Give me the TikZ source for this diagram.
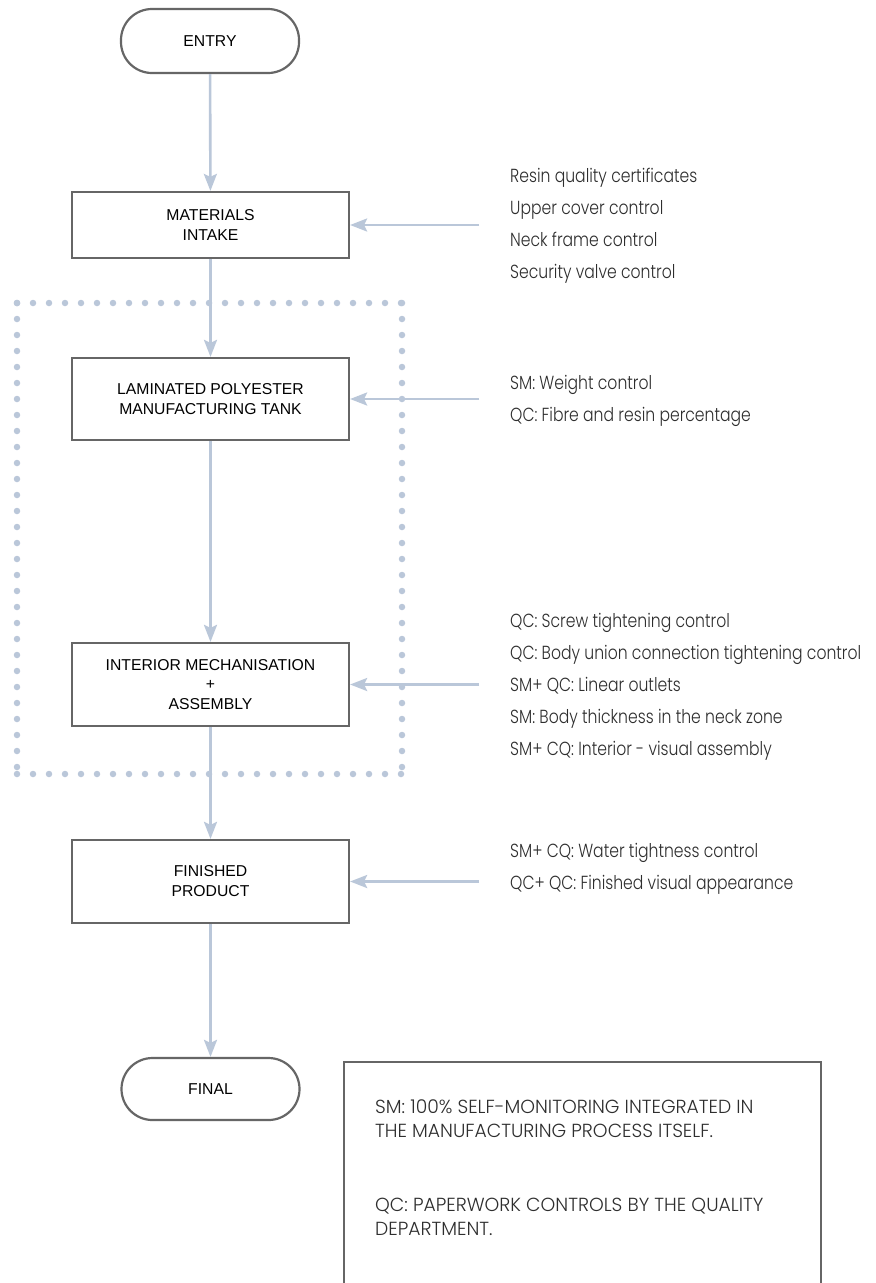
\documentclass[tikz,border=0pt]{standalone}
\usepackage{fontspec}
\newfontfamily\boxfont{Liberation Sans}
\newfontfamily\lightfont{Poppins Light}[FakeStretch=0.825]
\newfontfamily\legendfont{Poppins Light}[FakeStretch=0.99]
\usetikzlibrary{arrows.meta}
\definecolor{connblue}{HTML}{BAC7D9}
\definecolor{boxgray}{HTML}{666666}
\definecolor{txtgray}{HTML}{2E2E2E}
\tikzset{
  stagebox/.style={draw=boxgray, line width=2.2bp, minimum width=277bp, align=center,
    font=\boxfont\fontsize{15.8}{20}\selectfont, text=black, inner sep=0pt},
  terminal/.style={draw=boxgray, line width=2.2bp, minimum width=178bp, rounded corners=31bp,
    font=\boxfont\fontsize{15.8}{20}\selectfont, text=black, inner sep=0pt},
  conn/.style={draw=connblue, line width=2.6bp, -{Stealth[length=17bp,width=13bp,inset=3bp]}},
  notes/.style={anchor=west, align=left, inner sep=0pt, text=txtgray,
    font=\lightfont\fontsize{19}{32}\selectfont},
  legendtext/.style={anchor=west, align=left, inner sep=0pt, text=txtgray,
    font=\legendfont\fontsize{19}{24}\selectfont},
  dotted frame/.style={draw=connblue, line width=6.5bp, line cap=round, dash pattern=on 0bp off 16bp}
}
\begin{document}
\begin{tikzpicture}[x=1bp,y=-1bp]
\useasboundingbox[fill=white] (0,0) rectangle (876,1283);

% dotted frame
\draw[dotted frame] (17,303) -- (402,303);
\draw[dotted frame] (402,303) -- (402,774);
\draw[dotted frame] (17,774) -- (402,774);
\draw[dotted frame] (17,303) -- (17,774);

% nodes
\node[terminal, minimum height=64bp] (entry) at (210,41) {ENTRY};
\node[stagebox, minimum height=66bp] (materials) at (210.5,225) {MATERIALS\\INTAKE};
\node[stagebox, minimum height=82bp] (laminated) at (210.5,399) {LAMINATED POLYESTER\\MANUFACTURING TANK};
\node[stagebox, minimum height=83bp] (interior) at (210.5,684.5) {INTERIOR MECHANISATION\\+\\ASSEMBLY};
\node[stagebox, minimum height=83bp] (finished) at (210.5,881.5) {FINISHED\\PRODUCT};
\node[terminal, minimum height=62bp] (final) at (210.5,1089) {FINAL};

% vertical flow
\draw[conn] (entry) -- (materials);
\draw[conn] (materials) -- (laminated);
\draw[conn] (laminated) -- (interior);
\draw[conn] (interior) -- (finished);
\draw[conn] (finished) -- (final);

% side inputs
\coordinate (in1) at (479,225);
\coordinate (in2) at (479,399);
\coordinate (in3) at (479,684.5);
\coordinate (in4) at (479,881.5);
\draw[conn] (in1) -- (materials.east);
\draw[conn] (in2) -- (laminated.east);
\draw[conn] (in3) -- (interior.east);
\draw[conn] (in4) -- (finished.east);

% notes
\node[notes] (n1) at (510,226) {Resin quality certificates\\Upper cover control\\Neck frame control\\Security valve control};
\node[notes] (n2) at (510,401) {SM: Weight control\\QC: Fibre and resin percentage};
\node[notes] (n3) at (510,687) {QC: Screw tightening control\\QC: Body union connection tightening control\\SM+ QC: Linear outlets\\SM: Body thickness in the neck zone\\SM+ CQ: Interior - visual assembly};
\node[notes] (n4) at (510,869) {SM+ CQ: Water tightness control\\QC+ QC: Finished visual appearance};

% legend
\node[draw=boxgray, line width=2.2bp, minimum width=477bp, minimum height=240bp, anchor=north west, inner sep=0pt] (legend) at (343,1061) {};
\node[legendtext] (leg1) at (375,1118.5) {SM: 100\% SELF-MONITORING INTEGRATED IN\\THE MANUFACTURING PROCESS ITSELF.};
\node[legendtext] (leg2) at (375,1216.5) {QC: PAPERWORK CONTROLS BY THE QUALITY\\DEPARTMENT.};
\end{tikzpicture}
\end{document}
